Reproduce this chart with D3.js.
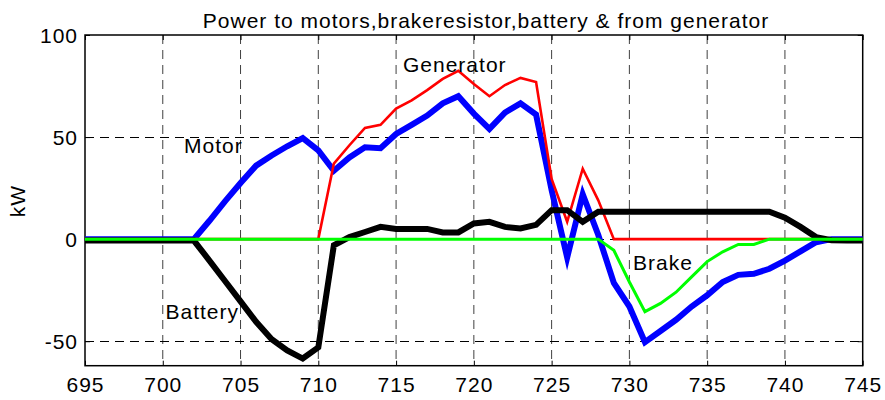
<!DOCTYPE html>
<html><head><meta charset="utf-8">
<script src="https://cdn.jsdelivr.net/npm/d3@7/dist/d3.min.js"></script>
<style>
body{margin:0;background:#fff}
svg text{font-family:"Liberation Sans",Arial,Helvetica,sans-serif;fill:#000}
</style>
</head><body>
<svg id="chart" width="885" height="400"></svg>
<script>
const title = "Power to motors,brakeresistor,battery & from generator";
const yLabel = "kW";
const time = [695,696,697,698,699,700,701,702,703,704,705,706,707,708,709,710,711,712,713,714,715,716,717,718,719,720,721,722,723,724,725,726,727,728,729,730,731,732,733,734,735,736,737,738,739,740,741,742,743,744,745];
const motor = [0,0,0,0,0,0,0,0,9,18.5,27.5,36,41,45.5,49.5,43.5,33.5,40,45,44.5,51.5,56,60.5,66.5,70,61.5,54,62,66.5,61,24,-9,22,2,-21.5,-33,-50.5,-45,-39.5,-33,-27.5,-21,-17.5,-17,-14.5,-10.5,-6,-1.5,0,0,0];
const generator = [0,0,0,0,0,0,0,0,0,0,0,0,0,0,0,0,37,46,54.5,56,64,68,73,78.5,82.5,76,70,75.5,79,77,29.5,8.5,34.5,19,0,0,0,0,0,0,0,0,0,0,0,0,0,0,0,0,0];
const battery = [-0.7,-0.7,-0.7,-0.7,-0.7,-0.7,-0.7,-0.7,-10.5,-20.5,-30.5,-40.5,-49,-54.5,-58.5,-53,-3,1,3.5,6,5,5,5,3.3,3.3,7.7,8.5,6,5.2,7,14.2,14.2,8.5,13.4,13.4,13.4,13.4,13.4,13.4,13.4,13.4,13.4,13.4,13.4,13.4,10.5,6,1,-0.5,-0.7,-0.7];
const brake = [0,0,0,0,0,0,0,0,0,0,0,0,0,0,0,0,0,0,0,0,0,0,0,0,0,0,0,0,0,0,0,0,0,0,-5.5,-21,-35.5,-31.5,-26,-18.5,-11,-6.2,-2.6,-2.6,0,0,0,0,0,0,0];
const xTicks = [695,700,705,710,715,720,725,730,735,740,745];
const yTicks = [-50,0,50,100];
const seriesNames = ["Motor","Generator","Battery","Brake"];

const svg = d3.select("#chart");
const m = {left:85, top:35, right:885-862.7, bottom:400-365.7};
const W = 885 - m.left - m.right, H = 400 - m.top - m.bottom;
const x = d3.scaleLinear().domain([695,745]).range([m.left, m.left+W]);
const y = d3.scaleLinear().domain([-62,100]).range([m.top+H, m.top]);
const fmt = d => String(d);

const g = svg.append("g");
// grid
g.append("g").selectAll("line").data(xTicks.slice(1,-1)).join("line")
  .attr("x1",d=>x(d)).attr("x2",d=>x(d)).attr("y1",m.top).attr("y2",m.top+H)
  .attr("stroke","#000").attr("stroke-width",1).attr("stroke-dasharray","9,6").attr("opacity",0.75);
g.append("g").selectAll("line").data(yTicks.filter(d=>d<100)).join("line")
  .attr("x1",m.left).attr("x2",m.left+W).attr("y1",d=>Math.round(y(d))+0.5).attr("y2",d=>Math.round(y(d))+0.5)
  .attr("stroke","#000").attr("stroke-width",1).attr("stroke-dasharray","9,6");

// axes (ticks inward)
const fontSize = "21px";
const ax = g.append("g").attr("transform",`translate(0,${m.top+H})`)
  .call(d3.axisBottom(x).tickValues(xTicks).tickSizeInner(-5).tickSizeOuter(0).tickFormat(fmt));
ax.selectAll("text").attr("y",26.3).attr("dy",null).style("font-size",fontSize).style("letter-spacing","1px");
const axT = g.append("g").attr("transform",`translate(0,${m.top})`)
  .call(d3.axisTop(x).tickValues(xTicks).tickSizeInner(-5).tickSizeOuter(0).tickFormat(""));
const ay = g.append("g").attr("transform",`translate(${m.left},0)`)
  .call(d3.axisLeft(y).tickValues(yTicks).tickSizeInner(-5).tickSizeOuter(0).tickFormat(fmt));
ay.selectAll("text").attr("x",-7).attr("dy",null).attr("y",7.5).style("font-size",fontSize).style("letter-spacing","1px");
const ayR = g.append("g").attr("transform",`translate(${m.left+W},0)`)
  .call(d3.axisRight(y).tickValues(yTicks).tickSizeInner(-5).tickSizeOuter(0).tickFormat(""));
[ax,axT,ay,ayR].forEach(a=>{a.select(".domain").remove(); a.selectAll("line").attr("stroke","#000");});
// box
g.append("rect").attr("x",m.left).attr("y",m.top).attr("width",W).attr("height",H)
  .attr("fill","none").attr("stroke","#000").attr("stroke-width",1.5);

// lines
const line = d3.line().x((d,i)=>x(time[i])).y(d=>y(d));
svg.append("clipPath").attr("id","clp").append("rect")
  .attr("x",m.left-3).attr("y",m.top).attr("width",W+6).attr("height",H);
const lg = svg.append("g").attr("clip-path","url(#clp)");
const series = [
  {v:motor, c:"#0000ff", w:6},
  {v:generator, c:"#ff0000", w:2.6},
  {v:battery, c:"#000000", w:6},
  {v:brake, c:"#00ff00", w:3}
];
series.forEach(s=>{
  lg.append("path").datum(s.v).attr("d",line).attr("fill","none")
    .attr("stroke",s.c).attr("stroke-width",s.w).attr("stroke-linejoin","miter").attr("stroke-miterlimit",10);
});

// labels
const lab = [
  {t:seriesNames[0], x:184, y:153},
  {t:seriesNames[1], x:403, y:72},
  {t:seriesNames[2], x:165.5, y:319},
  {t:seriesNames[3], x:633, y:270}
];
svg.append("g").selectAll("text").data(lab).join("text")
  .attr("x",d=>d.x).attr("y",d=>d.y).text(d=>d.t)
  .style("font-size",fontSize).style("letter-spacing","1px");

svg.append("text").attr("x",486).attr("y",28).attr("text-anchor","middle")
  .style("font-size",fontSize).style("letter-spacing","1px").text(title);
svg.append("text").attr("transform","translate(25,201) rotate(-90)").attr("text-anchor","middle")
  .style("font-size",fontSize).style("letter-spacing","1px").text(yLabel);
</script>
</body></html>
